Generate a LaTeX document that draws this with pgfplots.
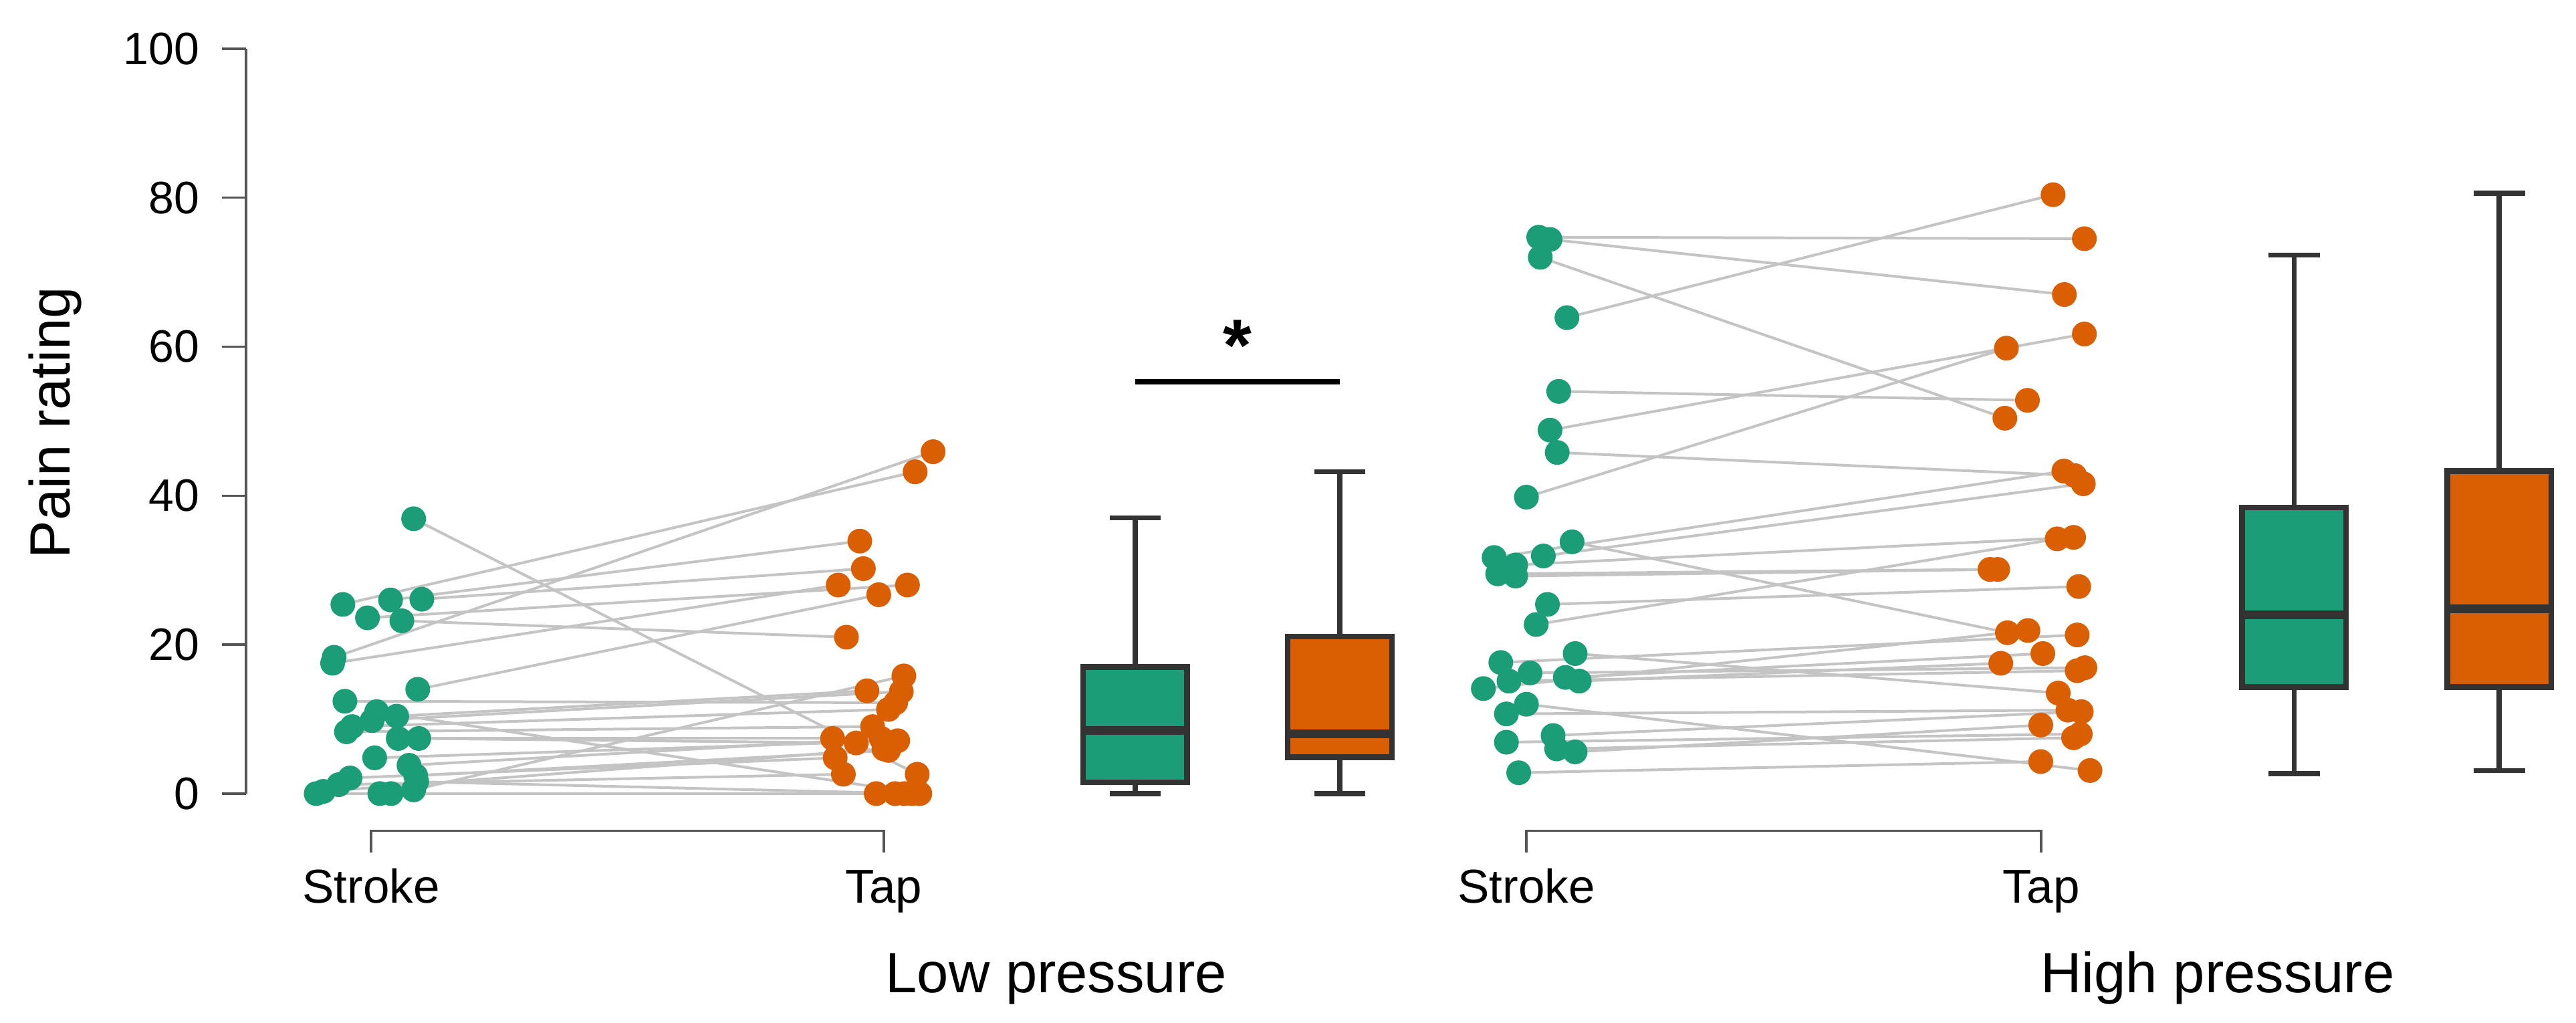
\documentclass[border=0pt]{standalone}
\usepackage{fontspec}
\setmainfont{Liberation Sans}
\usepackage{pgfplots}
\usepackage{pgfplotstable}
\pgfplotsset{compat=1.18}
\usepgfplotslibrary{statistics}
\definecolor{dgreen}{HTML}{1B9E77}
\definecolor{dorange}{HTML}{D95F02}
\definecolor{boxline}{HTML}{333333}
\definecolor{pairline}{HTML}{C4C4C4}
\definecolor{axisgray}{HTML}{555555}

% Low pressure: stroke (x, value) paired with tap (x, value)
\pgfplotstableread{
sx sv tx tv
1.083 36.9 2.065 2.6
0.928 18.3 2.096 45.9
0.945 25.4 2.061 43.2
0.925 17.5 1.911 28.0
1.038 26.0 1.953 33.9
1.099 26.1 1.960 30.2
0.993 23.6 2.046 28.0
1.060 23.2 1.927 21.0
1.091 14.0 1.990 26.7
0.949 12.4 2.023 12.2
1.083 0.5 2.039 15.8
1.050 10.4 1.967 13.8
1.002 9.8 2.034 13.7
0.963 9.0 2.009 11.3
0.952 8.3 1.978 9.0
1.053 7.4 1.900 7.4
1.093 7.4 1.946 6.8
1.007 4.8 2.027 7.1
1.074 3.8 1.995 7.4
1.087 2.4 2.009 5.8
0.959 2.1 1.905 4.8
0.937 1.2 1.921 2.6
1.089 1.6 2.055 0.0
0.907 0.3 2.000 6.0
0.893 0.0 1.985 0.0
1.017 0.0 2.022 0.0
1.039 0.0 2.040 0.0
1.011 11.0 2.070 0.0
}\lowdata

% High pressure
\pgfplotstableread{
sx sv tx tv
3.277 74.7 4.341 74.5
3.299 74.4 4.302 67.0
3.280 72.0 4.186 50.4
3.332 63.9 4.280 80.4
3.316 54.0 4.230 52.8
3.299 48.8 4.341 61.7
3.313 45.8 4.322 42.7
3.253 39.8 4.189 59.8
3.342 33.8 4.191 21.6
3.190 31.7 4.301 43.3
3.286 31.9 4.339 41.6
3.232 30.7 4.320 34.4
3.197 29.5 4.157 30.1
3.232 29.2 4.172 30.1
3.294 25.4 4.330 27.8
3.272 22.7 4.288 34.2
3.348 18.8 4.290 13.5
3.203 17.6 4.327 21.3
3.260 16.2 4.342 16.9
3.329 15.6 4.260 18.8
3.219 15.1 4.327 16.5
3.356 15.1 4.178 17.5
3.169 14.1 4.231 21.9
3.253 12.0 4.352 3.1
3.214 10.7 4.309 11.2
3.305 7.8 4.335 11.0
3.214 6.9 4.333 8.0
3.312 6.0 4.320 7.5
3.348 5.6 4.256 9.2
3.238 2.8 4.256 4.3
}\highdata

\begin{document}
\begin{tikzpicture}
\begin{axis}[
  scale only axis, width=348.5pt, height=111.4pt,
  xmin=0.7562, xmax=5.2998, ymin=0, ymax=100,
  axis x line=none, axis y line*=left,
  y axis line style={axisgray, line width=0.35pt},
  ytick={0,20,...,100}, ytick align=outside, major tick length=3.6pt,
  ytick style={axisgray, line width=0.35pt},
  yticklabel style={font=\fontsize{6.8}{8}\selectfont, inner sep=0pt, xshift=-3.2pt},
  /pgf/number format/assume math mode=true,
  clip=false,
  boxplot/draw direction=y,
  boxplot/every median/.style={line width=1.3pt},
  boxplot/every whisker/.style={line width=0.75pt},
  boxplot/every box/.style={line width=0.85pt},
]
% paired lines
\addplot[pairline, line width=0.4pt, quiver={u=\thisrow{tx}-\thisrow{sx}, v=\thisrow{tv}-\thisrow{sv}}] table[x=sx, y=sv] {\lowdata};
\addplot[pairline, line width=0.4pt, quiver={u=\thisrow{tx}-\thisrow{sx}, v=\thisrow{tv}-\thisrow{sv}}] table[x=sx, y=sv] {\highdata};
% dots
\addplot[only marks, mark=*, mark size=1.65pt, color=dgreen] table[x=sx, y=sv] {\lowdata};
\addplot[only marks, mark=*, mark size=1.65pt, color=dorange] table[x=tx, y=tv] {\lowdata};
\addplot[only marks, mark=*, mark size=1.65pt, color=dgreen] table[x=sx, y=sv] {\highdata};
\addplot[only marks, mark=*, mark size=1.65pt, color=dorange] table[x=tx, y=tv] {\highdata};
% boxplots
\addplot[boxplot prepared={lower whisker=0, lower quartile=1.5, median=8.5, upper quartile=17.0, upper whisker=37.0, draw position=2.49, box extend=0.203, whisker extend=0.1}, draw=boxline, fill=dgreen] coordinates {};
\addplot[boxplot prepared={lower whisker=0, lower quartile=4.9, median=8.0, upper quartile=21.1, upper whisker=43.2, draw position=2.889, box extend=0.203, whisker extend=0.1}, draw=boxline, fill=dorange] coordinates {};
\addplot[boxplot prepared={lower whisker=2.7, lower quartile=14.3, median=24.0, upper quartile=38.4, upper whisker=72.3, draw position=4.75, box extend=0.203, whisker extend=0.1}, draw=boxline, fill=dgreen] coordinates {};
\addplot[boxplot prepared={lower whisker=3.1, lower quartile=14.3, median=24.8, upper quartile=43.3, upper whisker=80.6, draw position=5.15, box extend=0.203, whisker extend=0.1}, draw=boxline, fill=dorange] coordinates {};
% significance
\draw[black, line width=0.85pt] (axis cs:2.49,55.3) -- (axis cs:2.889,55.3);
\node[font=\fontsize{11}{13}\selectfont\bfseries, inner sep=0pt] at (axis cs:2.69,60.2) {*};
% brackets
\draw[axisgray, line width=0.35pt] (axis cs:1,-7.9) -- (axis cs:1,-5.0) -- (axis cs:2,-5.0) -- (axis cs:2,-7.9);
\draw[axisgray, line width=0.35pt] (axis cs:3.253,-7.9) -- (axis cs:3.253,-5.0) -- (axis cs:4.257,-5.0) -- (axis cs:4.257,-7.9);
\node[font=\fontsize{7.1}{8.5}\selectfont, anchor=base, inner sep=0pt] at (axis cs:1,-14.7) {Stroke};
\node[font=\fontsize{7.1}{8.5}\selectfont, anchor=base, inner sep=0pt] at (axis cs:2,-14.7) {Tap};
\node[font=\fontsize{7.1}{8.5}\selectfont, anchor=base, inner sep=0pt] at (axis cs:3.253,-14.7) {Stroke};
\node[font=\fontsize{7.1}{8.5}\selectfont, anchor=base, inner sep=0pt] at (axis cs:4.257,-14.7) {Tap};
\node[font=\fontsize{8.5}{10}\selectfont, anchor=base, inner sep=0pt] at (axis cs:2.336,-26.7) {Low pressure};
\node[font=\fontsize{8.5}{10}\selectfont, anchor=base, inner sep=0pt] at (axis cs:4.601,-26.7) {High pressure};
\node[font=\fontsize{8.5}{10}\selectfont, anchor=base, rotate=90, inner sep=0pt] at (axis cs:0.4133,49.8) {Pain rating};
\coordinate (bbl) at (axis cs:0.2764,-30.79);
\coordinate (btr) at (axis cs:5.2998,106.55);
\end{axis}
\pgfresetboundingbox
\useasboundingbox (bbl) rectangle (btr);
\end{tikzpicture}
\end{document}
